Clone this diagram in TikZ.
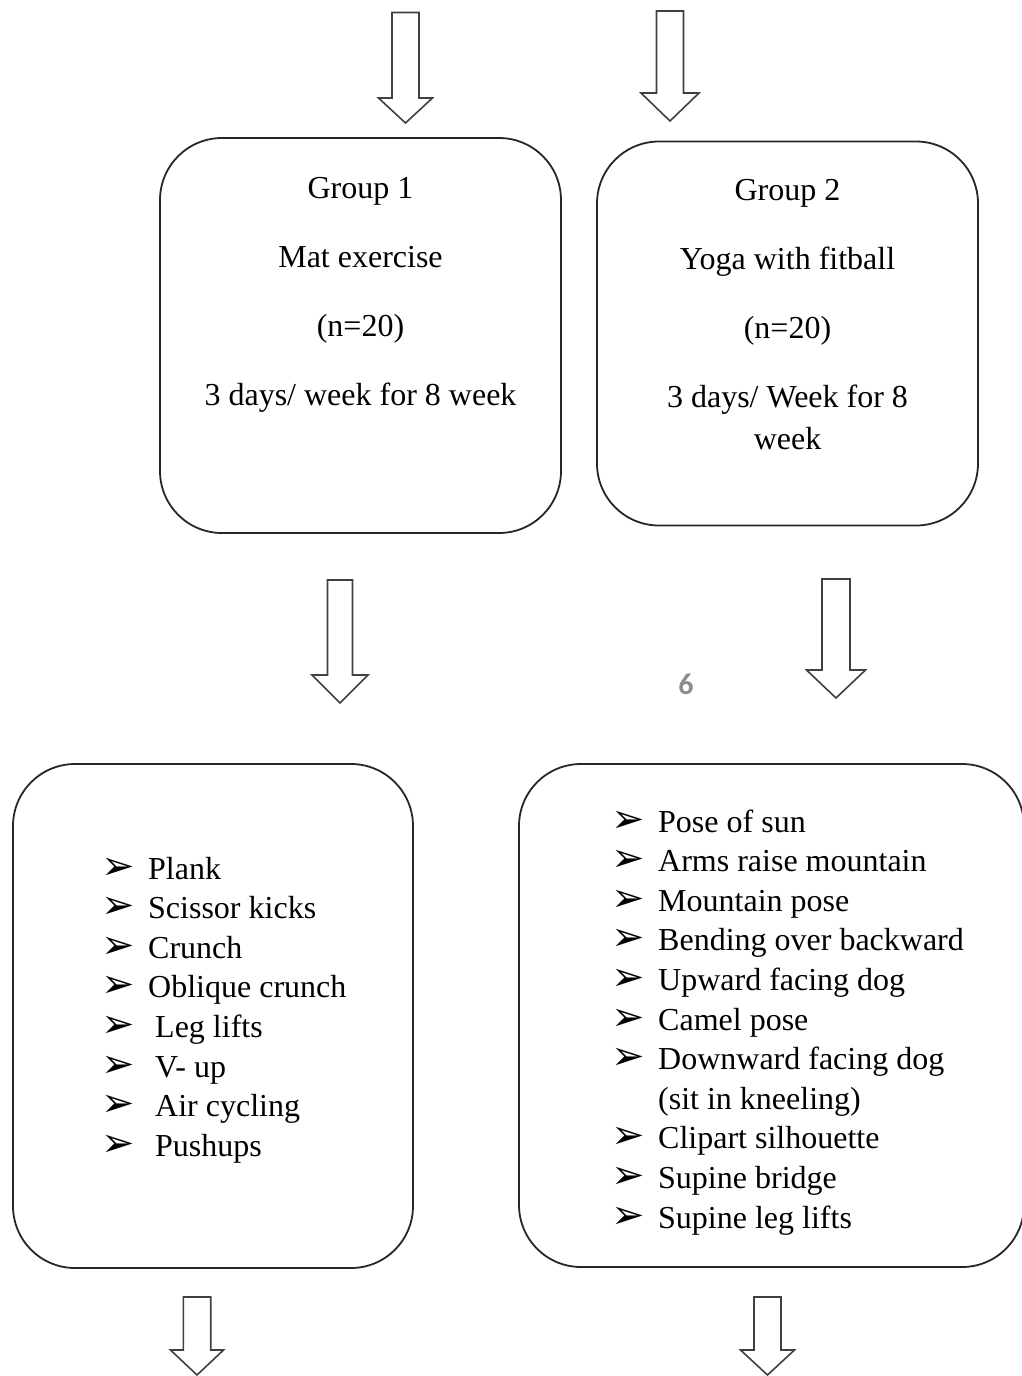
\documentclass[tikz,border=0pt]{standalone}
\usepackage{fontspec}
\setmainfont{Liberation Serif}
\newfontfamily\dingfont{DejaVu Sans}
\newfontfamily\pagenumfont{Carlito}
\newcommand\downblock[6]{% cx, top, wing y, tip y, half shaft, half wing
  \draw[blockarrow] ({#1-#5},{#2}) -- ({#1+#5},{#2}) -- ({#1+#5},{#3}) -- ({#1+#6},{#3})
    -- ({#1},{#4}) -- ({#1-#6},{#3}) -- ({#1-#5},{#3}) -- cycle;}
\begin{document}
\begin{tikzpicture}[x=1pt,y=-1pt,
  box/.style={draw=black!85, line width=1.8pt, rounded corners=62pt, rectangle, inner sep=0pt},
  blockarrow/.style={draw=black!75, line width=1.6pt, fill=white, line join=miter},
  txt/.style={font=\fontsize{32}{40}\selectfont, inner sep=0pt, text=black},
  ctxt/.style={txt, anchor=base},
  ltxt/.style={txt, anchor=base west},
  bul/.style={font=\dingfont\fontsize{40}{48}\selectfont, inner sep=0pt, anchor=base west},
]
\useasboundingbox (0,0) rectangle (1022,1376);
\clip (0,0) rectangle (1022,1376);

% top arrows
\downblock{405.5}{12.5}{98}{123}{13.5}{27}
\downblock{670}{11}{93}{121}{13.5}{29}

% group boxes
\node[box, minimum width=401pt, minimum height=395pt] (g1) at (360.5,335.5) {};
\node[box, minimum width=381pt, minimum height=384pt] (g2) at (787.5,333.5) {};

\node[ctxt] (g1a) at (360.5,198.3) {Group 1};
\node[ctxt] (g1b) at (360.5,267) {Mat exercise};
\node[ctxt] (g1c) at (360.5,336.5) {(n=20)};
\node[ctxt] (g1d) at (360.5,405.7) {3 days/ week for 8 week};

\node[ctxt] (g2a) at (787.5,200.5) {Group 2};
\node[ctxt] (g2b) at (787.5,269.5) {Yoga with fitball};
\node[ctxt] (g2c) at (787.5,338.5) {(n=20)};
\node[ctxt] (g2d) at (787.5,407.5) {3 days/ Week for 8};
\node[ctxt] (g2e) at (787.5,449) {week};

% middle arrows
\downblock{340}{580}{675}{703}{12.5}{28}
\downblock{836}{579}{670}{698}{14}{29.5}

\node[font=\pagenumfont\bfseries\fontsize{30}{36}\selectfont, text=black!45, inner sep=0pt] (pg) at (686,684) {6};

% exercise boxes
\node[box, minimum width=400pt, minimum height=504pt] (l1) at (213,1016) {};
\node[box, minimum width=505pt, minimum height=503pt] (l2) at (771.5,1015.5) {};

% left list
\foreach \t/\xx [count=\i from 0] in {Plank/148, Scissor kicks/148, Crunch/148, Oblique crunch/148, Leg lifts/155, V- up/155, Air cycling/155, Pushups/155}{
  \node[bul] (lb\i) at (101,{879+39.6*\i}) {➢};
  \node[ltxt] (lt\i) at (\xx,{879+39.6*\i}) {\t};
}

% right list
\foreach \t/\b [count=\i from 0] in {Pose of sun/1, Arms raise mountain/1, Mountain pose/1, Bending over backward/1, Upward facing dog/1, Camel pose/1, Downward facing dog/1, (sit in kneeling)/0, Clipart silhouette/1, Supine bridge/1, Supine leg lifts/1}{
  \ifnum\b=1 \node[bul] (rb\i) at (611,{832+39.6*\i}) {➢};\fi
  \node[ltxt] (rt\i) at (658,{832+39.6*\i}) {\t};
}

% bottom arrows
\downblock{197}{1297}{1350}{1375}{13.7}{26.5}
\downblock{767.5}{1297}{1350}{1375}{13.5}{27}
\end{tikzpicture}
\end{document}
